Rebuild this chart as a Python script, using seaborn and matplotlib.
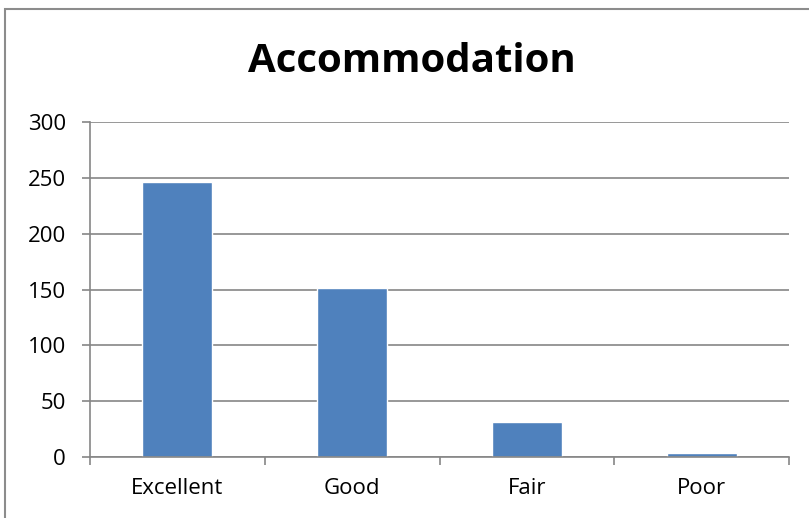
import matplotlib
matplotlib.use('Agg')
import matplotlib.pyplot as plt
import seaborn as sns
import pandas as pd
from matplotlib.patches import Rectangle

# data
categories = ['Excellent', 'Good', 'Fair', 'Poor']
counts = [246, 151, 31, 4]

df = pd.DataFrame({'rating': categories, 'count': counts})

sns.set_style('white')
plt.rcParams['font.family'] = ['Open Sans', 'DejaVu Sans']

fig = plt.figure(figsize=(8.09, 5.18), dpi=100)
ax = fig.add_axes([90/809, 61/518, 699/809, 335/518])

sns.barplot(data=df, x='rating', y='count', color='#4F81BD', width=0.4,
            saturation=1, ax=ax)

grid_c = '#868686'
ax.set_ylim(0, 300)
ax.set_xlim(-0.5, 3.5)
ax.set_yticks(range(0, 301, 50))
ax.yaxis.grid(True, color=grid_c, linewidth=1.2)
ax.set_axisbelow(True)
for s in ['top', 'right']:
    ax.spines[s].set_visible(False)
for s in ['left', 'bottom']:
    ax.spines[s].set_color(grid_c)
    ax.spines[s].set_linewidth(1.2)

ax.set_xticks([-0.5, 0.5, 1.5, 2.5, 3.5], minor=True)
ax.tick_params(axis='x', which='major', length=0, pad=15, labelsize=16,
               labelcolor='black')
ax.tick_params(axis='x', which='minor', length=5.5, color=grid_c, width=1.2,
               direction='out', bottom=True)
ax.tick_params(axis='y', length=5.5, color=grid_c, width=1.2, direction='out',
               left=True, labelsize=16, pad=12, labelcolor='black')
ax.set_xlabel('')
ax.set_ylabel('')

fig.text(412/809, 1 - 61/518, 'Accommodation', ha='center', va='center',
         fontsize=29, fontweight='bold', color='black')

# outer chart border (cropped on right and bottom)
fig.patches.append(Rectangle((5/809, -0.1), 1.2, 1.1 - 9/518,
                             transform=fig.transFigure, fill=False,
                             edgecolor='#8c8c8c', linewidth=1.5))

fig.savefig('out.png', dpi=100)
